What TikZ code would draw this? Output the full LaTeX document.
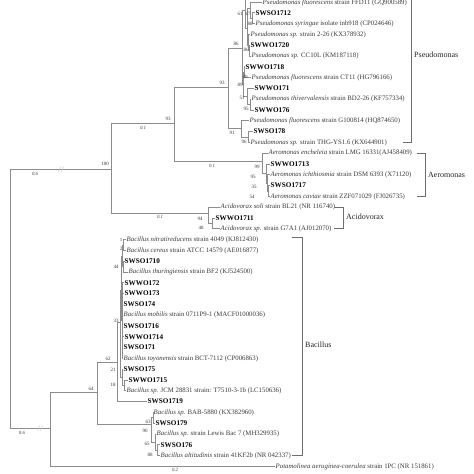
\documentclass[tikz,border=0pt]{standalone}
\usepackage{fontspec}
\setmainfont{Liberation Serif}
\usepackage{xcolor}
\usepackage{tikz}
\definecolor{treegray}{HTML}{8C8C8C}
\definecolor{inkgray}{HTML}{3A3A3A}
\definecolor{bargray}{HTML}{6E6E6E}

\begin{document}
\begin{tikzpicture}[x=1pt, y=-1pt,
    branch/.style={draw=treegray, line width=0.75pt},
    leaf/.style={anchor=west, inner sep=0.5pt, text=inkgray, font=\fontsize{6.8}{7}\selectfont},
    isolate/.style={anchor=west, inner sep=0.5pt, text=black, font=\fontsize{7.2}{7}\selectfont\bfseries},
    boot/.style={inner sep=0pt, text=inkgray, font=\fontsize{5}{5}\selectfont},
    dist/.style={inner sep=0pt, text=inkgray, font=\fontsize{4.8}{5}\selectfont\itshape},
    cladebar/.style={draw=bargray, line width=0.7pt},
    cladename/.style={anchor=west, inner sep=0pt, text=black!85, font=\fontsize{8}{9}\selectfont}]

  \fill[white] (0,0) rectangle (474,474);
  \useasboundingbox (0,0) rectangle (474,474);
  \clip (0,0) rectangle (474,474);

  % inner nodes of the tree
  \coordinate (root) at (10,298);
  \coordinate (n100) at (111,169);
  \coordinate (n93a) at (174,123.5);
  \coordinate (npse) at (228,87);
  \coordinate (n86a) at (242,48);
  \coordinate (n61) at (245,10);
  \coordinate (noff) at (249,-8);
  \coordinate (nd) at (247,28);
  \coordinate (n67) at (250,8);
  \coordinate (n88a) at (252,18);
  \coordinate (nc4) at (248,45);
  \coordinate (n86b) at (249,50.6);
  \coordinate (n89) at (243,84);
  \coordinate (n40) at (244,72.2);
  \coordinate (n51) at (247,96.5);
  \coordinate (n95b) at (250,104.6);
  \coordinate (n91) at (241,128);
  \coordinate (n96) at (248,137);
  \coordinate (naer) at (262,161);
  \coordinate (n95a) at (266,173.5);
  \coordinate (n35) at (267,183);
  \coordinate (n54) at (268,191);
  \coordinate (nacid) at (208,213);
  \coordinate (n48) at (212,223.4);
  \coordinate (nbac) at (50,428);
  \coordinate (n64) at (97,392);
  \coordinate (n62) at (117,362);
  \coordinate (n33) at (120,322);
  \coordinate (nbu) at (121,290);
  \coordinate (nb1) at (122,256);
  \coordinate (nb0) at (123,245);
  \coordinate (n44) at (123.5,266.6);
  \coordinate (nbm) at (122,320.6);
  \coordinate (n21) at (122,377);
  \coordinate (n18) at (124,385.4);
  \coordinate (n90) at (151,424);
  \coordinate (n63) at (153,417.8);
  \coordinate (n65) at (155,442);
  \coordinate (n88c) at (157,450.2);

  % Pseudomonas
  \node[leaf] (l1) at (262,2.5) {\textit{Pseudomonas fluorescens} strain FFD11 (GQ900589)};
  \node[isolate] (l2) at (255,12.8) {SWSO1712};
  \node[leaf] (l3) at (255,23.6) {\textit{Pseudomonas syringae} isolate inb918 (CP024646)};
  \node[leaf] (l4) at (250,34.4) {\textit{Pseudomonas sp.} strain 2-26 (KX378932)};
  \node[isolate] (l5) at (250,45.2) {SWWO1720};
  \node[leaf] (l6) at (251,56.0) {\textit{Pseudomonas sp.} CC10L (KM187118)};
  \node[isolate] (l7) at (245,66.8) {SWWO1718};
  \node[leaf] (l8) at (251,77.6) {\textit{Pseudomonas fluorescens} strain CT11 (HG796166)};
  \node[isolate] (l9) at (254,88.4) {SWWO171};
  \node[leaf] (l10) at (251,99.2) {\textit{Pseudomonas thivervalensis} strain BD2-26 (KF757334)};
  \node[isolate] (l11) at (254,110.0) {SWWO176};
  \node[leaf] (l12) at (249,120.8) {\textit{Pseudomonas fluorescens} strain G100814 (HQ874650)};
  \node[isolate] (l13) at (253,131.6) {SWSO178};
  \node[leaf] (l14) at (250,142.4) {\textit{Pseudomonas sp.} strain THG-YS1.6 (KX644901)};
  % Aeromonas
  \node[leaf] (l15) at (268,153.2) {\textit{Aeromonas encheleia} strain LMG 16331(AJ458409)};
  \node[isolate] (l16) at (270,164.0) {SWWO1713};
  \node[leaf] (l17) at (270,174.8) {\textit{Aeromonas ichthiosmia} strain DSM 6393 (X71120)};
  \node[isolate] (l18) at (270,185.6) {SWSO1717};
  \node[leaf] (l19) at (270,196.4) {\textit{Aeromonas caviae} strain ZZF071029 (FJ026735)};
  % Acidovorax
  \node[leaf] (l20) at (220,207.2) {\textit{Acidovorax soli} strain BL21 (NR 116740)};
  \node[isolate] (l21) at (215,218.0) {SWWO1711};
  \node[leaf] (l22) at (220,228.8) {\textit{Acidovorax sp.} strain G7A1 (AJ012070)};
  % Bacillus
  \node[leaf] (l23) at (126,239.6) {\textit{Bacillus nitratireducens} strain 4049 (KJ812430)};
  \node[leaf] (l24) at (126,250.4) {\textit{Bacillus cereus} strain ATCC 14579 (AE016877)};
  \node[isolate] (l25) at (124,261.2) {SWSO1710};
  \node[leaf] (l26) at (128,272.0) {\textit{Bacillus thuringiensis} strain BF2 (KJ524500)};
  \node[isolate] (l27) at (124,282.8) {SWWO172};
  \node[isolate] (l28) at (124,293.6) {SWWO173};
  \node[isolate] (l29) at (123,304.4) {SWSO174};
  \node[leaf] (l30) at (123,315.2) {\textit{Bacillus mobilis} strain 0711P9-1 (MACF01000036)};
  \node[isolate] (l31) at (123,326.0) {SWSO1716};
  \node[isolate] (l32) at (124,336.8) {SWWO1714};
  \node[isolate] (l33) at (123,347.6) {SWSO171};
  \node[leaf] (l34) at (123,358.4) {\textit{Bacillus toyonensis} strain BCT-7112 (CP006863)};
  \node[isolate] (l35) at (123,369.2) {SWSO175};
  \node[isolate] (l36) at (128,380.0) {SWWO1715};
  \node[leaf] (l37) at (126,390.8) {\textit{Bacillus sp.} JCM 28831 strain: T7510-3-1b (LC150636)};
  \node[isolate] (l38) at (147,401.6) {SWSO1719};
  \node[leaf] (l39) at (153,412.4) {\textit{Bacillus sp.} BAB-5880 (KX382960)};
  \node[isolate] (l40) at (155,423.2) {SWSO179};
  \node[leaf] (l41) at (156,434.0) {\textit{Bacillus sp.} strain Lewis Bac 7 (MH329935)};
  \node[isolate] (l42) at (160,444.8) {SWSO176};
  \node[leaf] (l43) at (160,455.6) {\textit{Bacillus altitudinis} strain 41KF2b (NR 042337)};
  % outgroup
  \node[leaf] (l44) at (275,466.4) {\textit{Potamolinea aeruginea-coerulea} strain 1PC (NR 151861)};

  % branches
  \draw[branch] (root) |- (n100) (root) |- (nbac);
  \draw[branch] (n100) |- (n93a) (n100) |- (nacid);
  \draw[branch] (n93a) |- (npse) (n93a) |- (naer);
  \draw[branch] (npse) |- (n86a) (npse) |- (n91);
  \draw[branch] (n86a) |- (n61) (n86a) |- (n89);
  \draw[branch] (n61) |- (noff) (n61) |- (nd);
  \draw[branch] (nd) |- (n67) (nd) |- (nc4);
  \draw[branch] (n67) |- (l1.west) (n67) |- (n88a);
  \draw[branch] (n88a) |- (l2.west) (n88a) |- (l3.west);
  \draw[branch] (nc4) |- (l4.west) (nc4) |- (n86b);
  \draw[branch] (n86b) |- (l5.west) (n86b) |- (l6.west);
  \draw[branch] (n89) |- (n40) (n89) |- (n51);
  \draw[branch] (n40) |- (l7.west) (n40) |- (l8.west);
  \draw[branch] (n51) |- (l9.west) (n51) |- (n95b);
  \draw[branch] (n95b) |- (l10.west) (n95b) |- (l11.west);
  \draw[branch] (n91) |- (l12.west) (n91) |- (n96);
  \draw[branch] (n96) |- (l13.west) (n96) |- (l14.west);
  \draw[branch] (naer) |- (l15.west) (naer) |- (n95a);
  \draw[branch] (n95a) |- (l16.west) (n95a) |- (n35);
  \draw[branch] (n35) |- (l17.west) (n35) |- (n54);
  \draw[branch] (n54) |- (l18.west) (n54) |- (l19.west);
  \draw[branch] (nacid) |- (l20.west) (nacid) |- (n48);
  \draw[branch] (n48) |- (l21.west) (n48) |- (l22.west);
  \draw[branch] (nbac) |- (n64) (nbac) |- (l44.west);
  \draw[branch] (n64) |- (n62) (n64) |- (n90);
  \draw[branch] (n62) |- (n33) (n62) |- (l38.west);
  \draw[branch] (n33) |- (nbu) (n33) |- (n21);
  \draw[branch] (nbu) |- (nb1) (nbu) |- (nbm);
  \draw[branch] (nb1) |- (nb0) (nb1) |- (n44);
  \draw[branch] (nb0) |- (l23.west) (nb0) |- (l24.west);
  \draw[branch] (n44) |- (l25.west) (n44) |- (l26.west);
  \foreach \i in {27,...,34}
    \draw[branch] (nbm) |- (l\i.west);
  \draw[branch] (n21) |- (l35.west) (n21) |- (n18);
  \draw[branch] (n18) |- (l36.west) (n18) |- (l37.west);
  \draw[branch] (n90) |- (n63) (n90) |- (n65);
  \draw[branch] (n63) |- (l39.west) (n63) |- (l40.west);
  \draw[branch] (n65) |- (l41.west) (n65) |- (n88c);
  \draw[branch] (n88c) |- (l42.west) (n88c) |- (l43.west);

  % breaks on the long branches
  \draw[treegray!45, line width=0.5pt] (58.5,171.5) -- (60.5,166.5) (61.5,171.5) -- (63.5,166.5);
  \draw[treegray!45, line width=0.5pt] (37.5,430.5) -- (39.5,425.5) (40.5,430.5) -- (42.5,425.5);

  % bootstrap values
  \node[boot] at (105,164) {100};
  \node[boot] at (168,118.5) {93};
  \node[boot] at (222,83) {93};
  \node[boot] at (236,43.5) {86};
  \node[boot] at (240,14) {61};
  \node[boot] at (248,14) {67};
  \node[boot] at (250,24) {88};
  \node[boot] at (246,49.5) {86};
  \node[boot] at (245,76.5) {40};
  \node[boot] at (240,85) {89};
  \node[boot] at (242,98) {51};
  \node[boot] at (246,108.5) {95};
  \node[boot] at (232,133) {91};
  \node[boot] at (244,142) {96};
  \node[boot] at (257,166.5) {99};
  \node[boot] at (253,177) {95};
  \node[boot] at (254,187) {35};
  \node[boot] at (252,197) {54};
  \node[boot] at (200,219) {94};
  \node[boot] at (201,228) {48};
  \node[boot] at (121,240) {1};
  \node[boot] at (121,249) {2};
  \node[boot] at (116,266.5) {44};
  \node[boot] at (116,321) {33};
  \node[boot] at (108,359) {62};
  \node[boot] at (113,370) {21};
  \node[boot] at (113,385) {18};
  \node[boot] at (91,389) {64};
  \node[boot] at (148,422) {63};
  \node[boot] at (145,431) {90};
  \node[boot] at (147,444) {65};
  \node[boot] at (150,455) {88};

  % branch lengths
  \node[dist] at (35,174) {0.6};
  \node[dist] at (22,433) {0.6};
  \node[dist] at (143,128) {0.1};
  \node[dist] at (212,166) {0.1};
  \node[dist] at (160,217) {0.1};
  \node[dist] at (175,470) {0.2};

  % clade brackets
  \draw[cladebar] (403,142.4) -| (411,-5);
  \draw[cladebar] (417,153.2) -- (425,153.2) -- (425,196.4) -- (417,196.4);
  \draw[cladebar] (334,207.2) -- (343,207.2) -- (343,228.8) -- (334,228.8);
  \draw[cladebar] (292,237.5) -- (302,237.5) -- (302,455.6) -- (292,455.6);
  \node[cladename] at (414,55) {Pseudomonas};
  \node[cladename] at (428,175) {Aeromonas};
  \node[cladename] at (346,217) {Acidovorax};
  \node[cladename] at (305,345) {Bacillus};
\end{tikzpicture}
\end{document}
